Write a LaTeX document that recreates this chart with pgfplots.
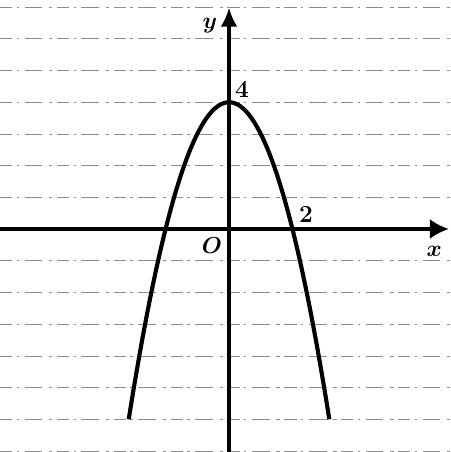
\documentclass[border=0pt]{standalone}
\usepackage{pgfplots}
\pgfplotsset{compat=1.18}
\usetikzlibrary{arrows.meta}

\begin{document}
\begin{tikzpicture}
\begin{axis}[
    scale only axis,
    width=14.19cm, height=14.25cm,
    xmin=-7.22, xmax=6.97, ymin=-7.03, ymax=7.22,
    axis lines=none, ticks=none,
    clip=false,
]
% faint dashed horizontal grid, one line per unit
\pgfplotsinvokeforeach{-7,-6,-5,-4,-3,-2,-1,1,2,3,4,5,6,7}{
  \addplot[black!45, line width=0.45pt,
           dash pattern=on 11pt off 4pt on 2pt off 5pt on 16pt off 6pt on 3pt off 4pt]
    coordinates {(-7.22,#1) (6.97,#1)};
}
% axes
\addplot[black, line width=3pt, -{Latex[length=17pt,width=18pt]}]
  coordinates {(-7.22,0) (6.93,0)};
\addplot[black, line width=3pt, -{Latex[length=17pt,width=15pt]}]
  coordinates {(0,-7.03) (0,6.98)};
% parabola y = 4 - x^2 on [-sqrt(10), sqrt(10)]
\addplot[black, line width=3.7pt, smooth] coordinates {
(-3.162,-6.0) (-3,-5) (-2.75,-3.5625) (-2.5,-2.25) (-2.25,-1.0625)
(-2,0) (-1.75,0.9375) (-1.5,1.75) (-1.25,2.4375) (-1,3)
(-0.75,3.4375) (-0.5,3.75) (-0.25,3.9375) (0,4)
(0.25,3.9375) (0.5,3.75) (0.75,3.4375) (1,3) (1.25,2.4375)
(1.5,1.75) (1.75,0.9375) (2,0) (2.25,-1.0625) (2.5,-2.25)
(2.75,-3.5625) (3,-5) (3.162,-6.0)
};
% labels
\node[font=\fontsize{22}{26}\selectfont\boldmath] at (axis cs:-0.6,6.42) {$y$};
\node[font=\fontsize{22}{26}\selectfont\bfseries] at (axis cs:0.41,4.4) {4};
\node[font=\fontsize{22}{26}\selectfont\bfseries] at (axis cs:2.43,0.46) {2};
\node[font=\fontsize{22}{26}\selectfont\boldmath] at (axis cs:-0.54,-0.52) {$O$};
\node[font=\fontsize{22}{26}\selectfont\boldmath] at (axis cs:6.47,-0.7) {$x$};
\end{axis}
\pgfresetboundingbox
\path (current axis.south west) rectangle (current axis.north east);
\end{tikzpicture}
\end{document}
